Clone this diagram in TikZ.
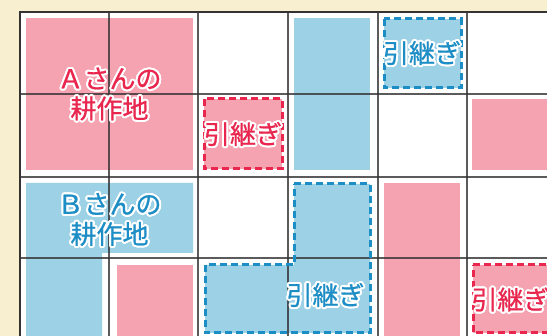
\documentclass[tikz,border=0pt]{standalone}
\usepackage{fontspec}
\newfontfamily\jp[FakeBold=0.8]{Noto Sans CJK JP}
\definecolor{cream}{HTML}{F8EED0}
\definecolor{pinkfill}{HTML}{F5A3B0}
\definecolor{bluefill}{HTML}{9DD1E6}
\definecolor{reddash}{HTML}{E8264E}
\definecolor{bluedash}{HTML}{1C8DC5}
\definecolor{gridline}{HTML}{333333}
\tikzset{
  txt/.style={inner sep=0pt, align=center, font=\jp\fontsize{26}{30}\selectfont},
  gridl/.style={draw=gridline, line width=2.2pt, opacity=0.8},
  dashbox/.style={line width=3pt, dash pattern=on 7pt off 4pt},
}
\newcommand\halotext[4]{%
  \foreach \a in {0,20,...,340} {\path (#1) ++(\a:2pt) node[txt,text=white]{#4};}
  \node[txt,text=#3] (#2) at (#1) {#4};
}
\begin{document}
\begin{tikzpicture}[x=1pt,y=-1pt]
\useasboundingbox (0,0) rectangle (547,336);
\clip (0,0) rectangle (547,336);
\fill[cream] (0,0) rectangle (547,336);
\fill[white] (20,12) rectangle (560,350);
% solid fills
\fill[pinkfill] (26,18) rectangle (193,170);
\fill[bluefill] (294,18) rectangle (370,170);
\fill[pinkfill] (472,99) rectangle (560,170);
\fill[bluefill] (26,183) -- (193,183) -- (193,253) -- (102,253) -- (102,340) -- (26,340) -- cycle;
\fill[pinkfill] (117,265) rectangle (193,340);
\fill[pinkfill] (384,183) rectangle (460,340);
% dashed fills
\fill[pinkfill] (204,99) rectangle (282,169);
\fill[bluefill] (384,19) rectangle (461,88);
\fill[bluefill] (294,184) -- (370,184) -- (370,333) -- (205,333) -- (205,265) -- (294,265) -- cycle;
\fill[pinkfill] (473,265) rectangle (560,333);
% grid
\foreach \x in {109,198,288,378,467} \draw[gridl] (\x,12) -- (\x,345);
\foreach \y in {94,177,258} \draw[gridl] (20,\y) -- (560,\y);
\draw[draw=gridline, line width=2.8pt] (20,345) -- (20,12) -- (560,12);
% dashed outlines
\draw[dashbox, reddash] (204,99) rectangle (282,169);
\draw[dashbox, bluedash] (384,19) rectangle (461,88);
\draw[dashbox, bluedash] (294,184) -- (370,184) -- (370,333) -- (205,333) -- (205,265) -- (294,265) -- cycle;
\draw[dashbox, reddash] (473,265) -- (560,265) (560,333) -- (473,333) -- (473,265);
% texts
\halotext{109.5,94}{ta}{reddash}{Ａさんの\\耕作地}
\halotext{243,134}{tr1}{reddash}{引継ぎ}
\halotext{422,53}{tb1}{bluedash}{引継ぎ}
\halotext{109.5,219.5}{tb}{bluedash}{Ｂさんの\\耕作地}
\halotext{325.5,295}{tb2}{bluedash}{引継ぎ}
\halotext{510.5,299.5}{tr2}{reddash}{引継ぎ}
\end{tikzpicture}
\end{document}
